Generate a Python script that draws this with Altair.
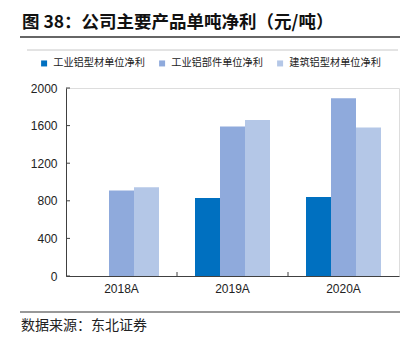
import altair as alt
import pandas as pd

years = ["2018A", "2019A", "2020A"]
series = ["工业铝型材单位净利", "工业铝部件单位净利", "建筑铝型材单位净利"]
s1 = [0, 830, 840]
s2 = [910, 1590, 1890]
s3 = [945, 1660, 1580]
colors = ["#0070C0", "#8FAADC", "#B4C7E7"]
y_ticks = [0, 400, 800, 1200, 1600, 2000]
title_text = "图 38：公司主要产品单吨净利（元/吨）"
source_text = "数据来源：东北证券"

rows = []
for i, y in enumerate(years):
    for s, vals in zip(series, [s1, s2, s3]):
        rows.append({"year": y, "series": s, "value": vals[i]})
df = pd.DataFrame(rows)

W, H = 333, 188
L, T = 66, 88
CJK = "Noto Sans CJK SC"
NUM = "Liberation Sans"

xscale = alt.Scale(domain=years, paddingInner=0, paddingOuter=0)
yscale = alt.Scale(domain=[0, 2000], nice=False)
xaxis = alt.Axis(title=None, labelAngle=0, tickSize=0, labelPadding=7,
                 labelFont=NUM, labelFontSize=12, labelColor="#222",
                 domainColor="#404040", domainWidth=1)
yaxis = alt.Axis(title=None, values=y_ticks, format="d", grid=False, tickSize=0, labelPadding=9,
                 labelFont=NUM, labelFontSize=12, labelColor="#222",
                 domainColor="#404040", domainWidth=1)

bars = alt.Chart(df).mark_bar().encode(
    x=alt.X("year:N", scale=xscale, sort=years, axis=xaxis, title=None),
    xOffset=alt.XOffset("series:N", sort=series,
                        scale=alt.Scale(domain=series, paddingInner=0, paddingOuter=0.72)),
    y=alt.Y("value:Q", scale=yscale, axis=yaxis, title=None),
    color=alt.Color("series:N", sort=series,
                    scale=alt.Scale(domain=series, range=colors),
                    legend=alt.Legend(title=None, orient="none", legendX=-27, legendY=-30,
                                      direction="horizontal", symbolType="square",
                                      symbolSize=36, symbolStrokeWidth=0,
                                      labelFont=CJK, labelFontSize=10.2, labelColor="#222",
                                      labelOffset=4, columnPadding=12)),
)

ytick_df = pd.DataFrame({"value": y_ticks})
yticks = alt.Chart(ytick_df).mark_rule(color="#404040", strokeWidth=1).encode(
    y=alt.Y("value:Q", scale=yscale, axis=yaxis, title=None),
    x=alt.value(0), x2=alt.value(4),
)

xtick_df = pd.DataFrame({"year": years[1:]})
xticks = alt.Chart(xtick_df).mark_rule(color="#404040", strokeWidth=1).encode(
    x=alt.X("year:N", scale=xscale, sort=years, bandPosition=0, axis=xaxis, title=None),
    y=alt.value(H), y2=alt.value(H - 4),
)

one = alt.Data(values=[{"k": 1}])
title = alt.Chart(one).mark_text(align="left", baseline="middle", font=CJK, fontSize=17.5,
                                 fontWeight="bold", color="#111").encode(
    x=alt.value(22 - L), y=alt.value(23 - T), text=alt.value(title_text))
line1 = alt.Chart(one).mark_rule(color="#333", strokeWidth=1.5).encode(
    x=alt.value(20 - L), x2=alt.value(400 - L), y=alt.value(37 - T))
line2 = alt.Chart(one).mark_rule(color="#c8c8c8", strokeWidth=1).encode(
    x=alt.value(27 - L), x2=alt.value(398 - L), y=alt.value(50 - T))
line3 = alt.Chart(one).mark_rule(color="#333", strokeWidth=1.2).encode(
    x=alt.value(20 - L), x2=alt.value(400 - L), y=alt.value(312 - T))
source = alt.Chart(one).mark_text(align="left", baseline="middle", font=CJK, fontSize=14,
                                  color="#222").encode(
    x=alt.value(21 - L), y=alt.value(326 - T), text=alt.value(source_text))

chart = alt.layer(bars, yticks, xticks, title, line1, line2, line3, source).properties(
    width=W, height=H,
    autosize=alt.AutoSizeParams(type="none"),
    padding={"left": L, "top": T, "right": 412 - L - W, "bottom": 341 - T - H},
).configure_view(stroke=None).configure(background="white")

chart.save("out.html", embed_options={"renderer": "svg", "actions": False})
